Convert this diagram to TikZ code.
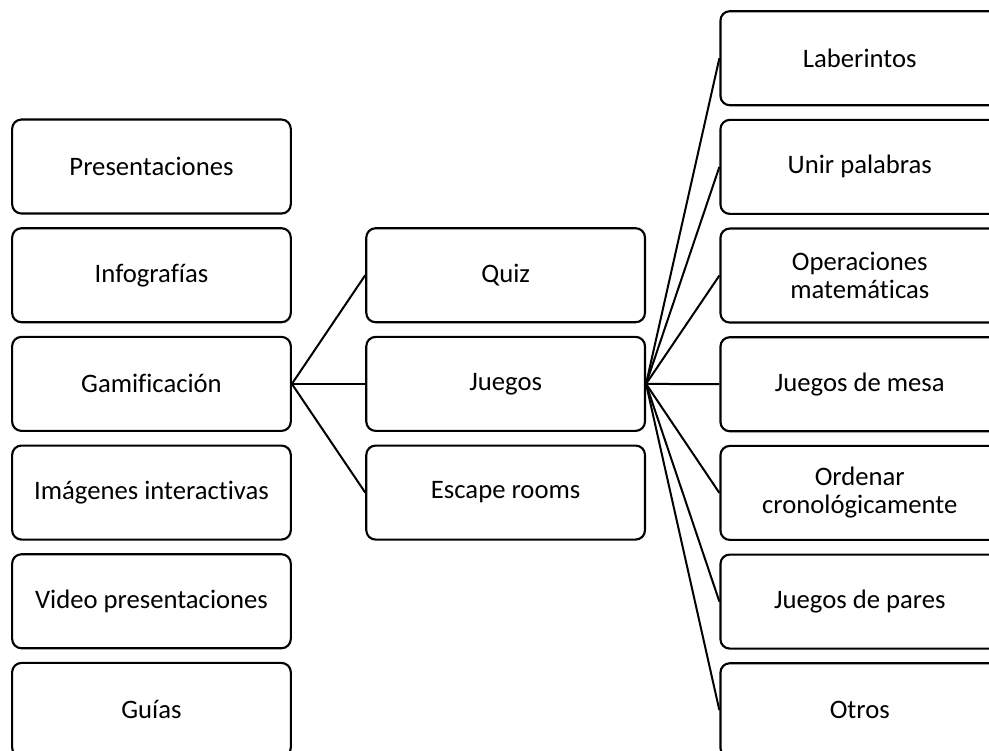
\documentclass[tikz,border=0pt]{standalone}
\usepackage{fontspec}
\setmainfont{Carlito}[Ligatures=NoCommon]
\usetikzlibrary{chains, positioning}

\begin{document}
\begin{tikzpicture}[
    node distance = 9.4pt and 55pt,
    box/.style = {rectangle, draw, rounded corners=7pt, line width=1.6pt, minimum width=209pt, minimum height=70.5pt, inner sep=0pt, align=center, font=\fontsize{20pt}{21pt}\selectfont},
    link/.style = {line width=1.5pt},
]
    % marco de la imagen
    \path[use as bounding box] (-113.6pt,124.9pt) rectangle (628.1pt,-437.6pt);
    \clip (-113.6pt,124.9pt) rectangle (628.1pt,-437.6pt);
    \fill[white] (-113.6pt,124.9pt) rectangle (628.1pt,-437.6pt);
    % recursos
    \begin{scope}[start chain = L going below, every node/.append style={box, on chain}]
        \node {Presentaciones};
        \node {Infografías};
        \node {Gamificación};
        \node {Imágenes interactivas};
        \node {Video presentaciones};
        \node {Guías};
    \end{scope}
    % tipos de gamificación
    \begin{scope}[start chain = M going below, every node/.append style={box, on chain}]
        \node[right=of L-2] {Quiz};
        \node {Juegos};
        \node {Escape rooms};
    \end{scope}
    % tipos de juegos
    \begin{scope}[start chain = R going below, every node/.append style={box, on chain}]
        \node[right=of M-1, yshift=162.75pt] {Laberintos};
        \node {Unir palabras};
        \node {Operaciones \\ matemáticas};
        \node {Juegos de mesa};
        \node {Ordenar \\ cronológicamente};
        \node {Juegos de pares};
        \node {Otros};
    \end{scope}
    \foreach \i in {1,2,3}
        \draw[link] (L-3.east) -- (M-\i.west);
    \foreach \i in {1,...,7}
        \draw[link] (M-2.east) -- (R-\i.west);
\end{tikzpicture}
\end{document}
